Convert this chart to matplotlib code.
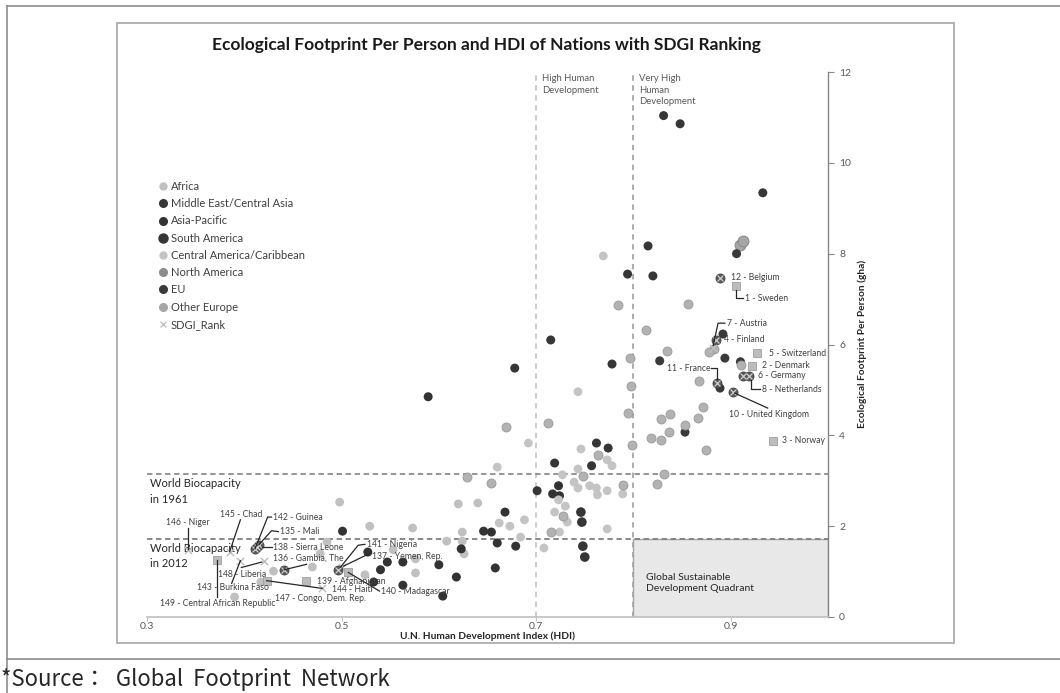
import matplotlib
matplotlib.use('Agg')
import matplotlib.pyplot as plt
from matplotlib.lines import Line2D
from matplotlib.patches import Rectangle

plt.rcParams['font.family'] = ['Lato', 'DejaVu Sans']

# ---------------- data ----------------
africa_hdi = [0.573, 0.576, 0.576, 0.498, 0.529, 0.553, 0.524, 0.485, 0.470, 0.430, 0.417, 0.390,
              0.626, 0.608, 0.624, 0.624, 0.620, 0.640, 0.478]
africa_fp = [1.96, 1.28, 0.97, 2.53, 2.00, 1.48, 0.93, 1.65, 1.10, 1.01, 0.77, 0.44,
             1.39, 1.67, 1.67, 1.87, 2.49, 2.51, 1.39]

mideast_hdi = [0.831, 0.848, 0.933, 0.815, 0.794, 0.820, 0.715, 0.678, 0.778, 0.762, 0.774, 0.719, 0.757, 0.701]
mideast_fp = [11.04, 10.86, 9.34, 8.17, 7.55, 7.51, 6.10, 5.48, 5.57, 3.83, 3.72, 3.39, 3.33, 2.78]

asiapac_hdi = [0.589, 0.723, 0.717, 0.724, 0.668, 0.646, 0.654, 0.660, 0.679, 0.623, 0.600, 0.658,
               0.563, 0.618, 0.563, 0.604, 0.501, 0.527, 0.547, 0.540, 0.533]
asiapac_fp = [4.85, 2.89, 2.71, 2.67, 2.31, 1.89, 1.87, 1.63, 1.56, 1.50, 1.15, 1.08,
              1.21, 0.88, 0.70, 0.46, 1.89, 1.43, 1.21, 1.04, 0.77]

samerica_hdi = [0.746, 0.747, 0.748, 0.750]
samerica_fp = [2.31, 2.09, 1.56, 1.32]

camerica_hdi = [0.769, 0.743, 0.692, 0.746, 0.773, 0.778, 0.743, 0.660, 0.727, 0.739, 0.755, 0.762,
                0.743, 0.773, 0.763, 0.789, 0.723, 0.730, 0.719, 0.732, 0.662, 0.673, 0.688, 0.684,
                0.724, 0.773, 0.708]
camerica_fp = [7.95, 4.96, 3.83, 3.70, 3.46, 3.33, 3.26, 3.30, 3.13, 2.97, 2.89, 2.84,
               2.84, 2.78, 2.69, 2.71, 2.58, 2.44, 2.31, 2.09, 2.07, 2.00, 2.14, 1.76,
               1.87, 1.94, 1.52]

namerica_hdi = [0.910, 0.913]
namerica_fp = [8.19, 8.28]

eu_hdi = [0.906, 0.892, 0.894, 0.827, 0.910, 0.889, 0.853]
eu_fp = [8.00, 6.23, 5.70, 5.64, 5.62, 5.04, 4.07]

oeurope_hdi = [0.856, 0.784, 0.813, 0.883, 0.878, 0.834, 0.911, 0.796, 0.797, 0.867, 0.794, 0.669,
               0.712, 0.872, 0.838, 0.828, 0.866, 0.853, 0.837, 0.818, 0.828, 0.875, 0.831, 0.799,
               0.764, 0.629, 0.748, 0.824, 0.789, 0.728, 0.654, 0.715]
oeurope_fp = [6.89, 6.87, 6.32, 5.90, 5.84, 5.86, 5.55, 5.70, 5.09, 5.20, 4.49, 4.18,
              4.27, 4.63, 4.47, 4.36, 4.38, 4.23, 4.07, 3.94, 3.90, 3.68, 3.15, 3.79,
              3.57, 3.08, 3.11, 2.93, 2.91, 2.22, 2.95, 1.87]

rank_names = ['1 - Sweden', '2 - Denmark', '3 - Norway', '4 - Finland', '5 - Switzerland',
              '6 - Germany', '7 - Austria', '8 - Netherlands', '10 - United Kingdom', '11 - France',
              '12 - Belgium', '135 - Mali', '136 - Gambia, The', '137 - Yemen, Rep.',
              '138 - Sierra Leone', '139 - Afghanistan', '140 - Madagascar', '141 - Nigeria',
              '142 - Guinea', '143 - Burkina Faso', '144 - Haiti', '145 - Chad', '146 - Niger',
              '147 - Congo, Dem. Rep.', '148 - Liberia', '149 - Central African Republic']
rank_hdi = [0.905, 0.922, 0.943, 0.885, 0.927, 0.913, 0.882, 0.919, 0.902, 0.886,
            0.889, 0.415, 0.441, 0.500, 0.413, 0.463, 0.507, 0.496,
            0.411, 0.396, 0.480, 0.385, 0.342, 0.423, 0.420, 0.372]
rank_fp = [7.28, 5.53, 3.88, 6.09, 5.81, 5.31, 5.92, 5.31, 4.96, 5.16,
           7.47, 1.59, 1.04, 1.10, 1.54, 0.80, 0.98, 1.04,
           1.50, 1.24, 0.63, 1.44, 1.48, 0.80, 1.24, 1.26]

biocap_1961 = 3.15
biocap_2012 = 1.72
hdi_high = 0.7
hdi_very_high = 0.8

x_ticks = [0.3, 0.5, 0.7, 0.9]
y_ticks = [0, 2, 4, 6, 8, 10, 12]

# ---------------- layout / style ----------------
SERIES = [
    ('Africa', africa_hdi, africa_fp, dict(color='#c0c0c0', s=40, edgecolor='none')),
    ('Middle East/Central Asia', mideast_hdi, mideast_fp, dict(color='#363636', s=42, edgecolor='none')),
    ('Asia-Pacific', asiapac_hdi, asiapac_fp, dict(color='#333333', s=42, edgecolor='none')),
    ('South America', samerica_hdi, samerica_fp, dict(color='#353535', s=48, edgecolor='none')),
    ('Central America/Caribbean', camerica_hdi, camerica_fp, dict(color='#c4c4c4', s=40, edgecolor='none')),
    ('North America', namerica_hdi, namerica_fp, dict(color='#a6a6a6', s=60, edgecolor='#8c8c8c', linewidths=0.8)),
    ('EU', eu_hdi, eu_fp, dict(color='#3a3a3a', s=42, edgecolor='none')),
    ('Other Europe', oeurope_hdi, oeurope_fp, dict(color='#b2b2b2', s=42, edgecolor='#999999', linewidths=0.6)),
]
LEGEND_STYLE = {
    'Africa': dict(marker='o', color='#c0c0c0', ms=5),
    'Middle East/Central Asia': dict(marker='o', color='#363636', ms=5.5),
    'Asia-Pacific': dict(marker='o', color='#333333', ms=5.5),
    'South America': dict(marker='o', color='#353535', ms=6.5),
    'Central America/Caribbean': dict(marker='o', color='#c4c4c4', ms=5),
    'North America': dict(marker='o', color='#8c8c8c', ms=5.5),
    'EU': dict(marker='o', color='#3a3a3a', ms=5.5),
    'Other Europe': dict(marker='o', color='#a6a6a6', ms=5.5),
    'SDGI_Rank': dict(marker='x', color='#bdbdbd', ms=5, mew=0.9),
}
RANK_SQUARE = {'1 - Sweden', '2 - Denmark', '3 - Norway', '5 - Switzerland', '139 - Afghanistan',
               '140 - Madagascar', '147 - Congo, Dem. Rep.', '149 - Central African Republic'}
RANK_CIRCLE = {'12 - Belgium', '4 - Finland', '6 - Germany', '8 - Netherlands', '10 - United Kingdom',
               '11 - France', '138 - Sierra Leone', '136 - Gambia, The', '141 - Nigeria',
               '142 - Guinea', '135 - Mali'}
LABEL_POS = {
    '12 - Belgium': (0.900, 7.47, 'left'),
    '1 - Sweden': (0.915, 7.02, 'left'),
    '7 - Austria': (0.896, 6.47, 'left'),
    '4 - Finland': (0.893, 6.10, 'left'),
    '5 - Switzerland': (0.939, 5.81, 'left'),
    '2 - Denmark': (0.932, 5.53, 'left'),
    '6 - Germany': (0.928, 5.31, 'left'),
    '8 - Netherlands': (0.932, 5.01, 'left'),
    '11 - France': (0.879, 5.48, 'right'),
    '10 - United Kingdom': (0.898, 4.45, 'left'),
    '3 - Norway': (0.953, 3.88, 'left'),
    '146 - Niger': (0.3195, 2.08, 'left'),
    '145 - Chad': (0.375, 2.25, 'left'),
    '142 - Guinea': (0.430, 2.20, 'left'),
    '135 - Mali': (0.437, 1.88, 'left'),
    '138 - Sierra Leone': (0.430, 1.54, 'left'),
    '136 - Gambia, The': (0.430, 1.29, 'left'),
    '141 - Nigeria': (0.526, 1.60, 'left'),
    '137 - Yemen, Rep.': (0.531, 1.33, 'left'),
    '139 - Afghanistan': (0.475, 0.79, 'left'),
    '144 - Haiti': (0.490, 0.615, 'left'),
    '140 - Madagascar': (0.541, 0.56, 'left'),
    '147 - Congo, Dem. Rep.': (0.432, 0.41, 'left'),
    '148 - Liberia': (0.373, 0.93, 'left'),
    '143 - Burkina Faso': (0.351, 0.64, 'left'),
    '149 - Central African Republic': (0.313, 0.30, 'left'),
}
LEADERS = {
    '1 - Sweden': [(0.913, 7.02), (0.905, 7.02), (0.905, 7.2)],
    '7 - Austria': [(0.894, 6.47), (0.887, 6.47), (0.882, 5.98)],
    '8 - Netherlands': [(0.930, 5.01), (0.921, 5.01), (0.921, 5.22)],
    '11 - France': [(0.880, 5.48), (0.886, 5.48), (0.886, 5.25)],
    '10 - United Kingdom': [(0.938, 4.60), (0.904, 4.93)],
    '146 - Niger': [(0.3418, 1.96), (0.3418, 1.50)],
    '145 - Chad': [(0.396, 2.14), (0.385, 1.44)],
    '142 - Guinea': [(0.428, 2.20), (0.424, 2.20), (0.411, 1.50)],
    '135 - Mali': [(0.435, 1.88), (0.428, 1.90), (0.415, 1.59)],
    '138 - Sierra Leone': [(0.428, 1.54), (0.418, 1.54)],
    '136 - Gambia, The': [(0.464, 1.16), (0.441, 1.04)],
    '141 - Nigeria': [(0.524, 1.60), (0.517, 1.58), (0.499, 1.10)],
    '137 - Yemen, Rep.': [(0.529, 1.40), (0.502, 1.12)],
    '140 - Madagascar': [(0.539, 0.57), (0.507, 0.98)],
    '147 - Congo, Dem. Rep.': [(0.480, 0.63), (0.423, 0.80)],
    '148 - Liberia': [(0.397, 1.09), (0.418, 1.21)],
    '143 - Burkina Faso': [(0.387, 0.74), (0.396, 1.24)],
    '149 - Central African Republic': [(0.372, 0.43), (0.372, 1.26)],
}

W, H = 1060, 693
def fx(px):
    return px / W
def fy(py):
    return 1 - py / H

fig = plt.figure(figsize=(10.6, 6.93), dpi=100)
fig.patch.set_facecolor('white')

# frames
fig.add_artist(Line2D([fx(7), fx(7)], [fy(6), 0], color='#8c8c8c', lw=1.2))
fig.add_artist(Line2D([fx(7), 1], [fy(6), fy(6)], color='#8c8c8c', lw=1.2))
fig.add_artist(Line2D([fx(7), 1], [fy(659), fy(659)], color='#8c8c8c', lw=1.2))
fig.add_artist(Rectangle((fx(117), fy(643)), fx(954) - fx(117), fy(23) - fy(643),
                         fill=False, edgecolor='#a6a6a6', lw=1.2))

ax = fig.add_axes([fx(147), fy(617), fx(828) - fx(147), fy(72) - fy(617)])
ax.set_xlim(0.3, 1.0)
ax.set_ylim(0, 12)
ax.patch.set_alpha(0)

# quadrant
ax.add_patch(Rectangle((hdi_very_high, 0), 1.0 - hdi_very_high, biocap_2012,
                       facecolor='#e8e8e8', edgecolor='#a6a6a6', lw=1.0, zorder=0))
ax.text(0.8134, 0.75, 'Global Sustainable\nDevelopment Quadrant', fontsize=7.5,
        color='#262626', ha='left', va='center', linespacing=1.35, zorder=1)

# reference lines
ax.axvline(hdi_high, color='#c8c8c8', lw=1.3, ls=(0, (3, 2.5)), zorder=1)
ax.axvline(hdi_very_high, color='#a6a6a6', lw=1.3, ls=(0, (3, 2.5)), zorder=1)
ax.axhline(biocap_1961, color='#8c8c8c', lw=1.3, ls=(0, (3, 2)), zorder=1)
ax.axhline(biocap_2012, color='#7f7f7f', lw=1.3, ls=(0, (3, 2)), zorder=1)

ax.text(0.7065, 11.95, 'High Human\nDevelopment', fontsize=6.8, color='#595959',
        ha='left', va='top', linespacing=1.35)
ax.text(0.806, 11.95, 'Very High\nHuman\nDevelopment', fontsize=6.8, color='#595959',
        ha='left', va='top', linespacing=1.35)
ax.text(0.3035, 3.05, 'World Biocapacity\nin 1961', fontsize=8, color='#262626',
        ha='left', va='top', linespacing=1.45)
ax.text(0.3035, 1.62, 'World Biocapacity\nin 2012', fontsize=8, color='#262626',
        ha='left', va='top', linespacing=1.45)

# series
for name, xs, ys, st in SERIES:
    ax.scatter(xs, ys, zorder=3, **st)

# ranked countries
for name, x, y in zip(rank_names, rank_hdi, rank_fp):
    if name in RANK_SQUARE:
        ax.scatter([x], [y], marker='s', s=34, color='#bcbcbc', edgecolor='#a0a0a0',
                   linewidths=0.6, zorder=5)
    elif name in RANK_CIRCLE:
        ax.scatter([x], [y], marker='o', s=42, color='#5a5a5a', edgecolor='#404040',
                   linewidths=0.6, zorder=5)
        ax.scatter([x], [y], marker='x', s=18, color='#cfcfcf', linewidths=0.9, zorder=6)
    else:
        ax.scatter([x], [y], marker='x', s=28, color='#bdbdbd', linewidths=1.0, zorder=5)

for name in rank_names:
    if name in LEADERS:
        pts = LEADERS[name]
        ax.plot([p[0] for p in pts], [p[1] for p in pts], color='#262626', lw=0.9, zorder=7)
    lx, ly, ha = LABEL_POS[name]
    ax.text(lx, ly, name, fontsize=6.2, color='#404040', ha=ha, va='center', zorder=8)

# axes styling
for sp in ['left', 'top']:
    ax.spines[sp].set_visible(False)
ax.spines['bottom'].set_color('#bfbfbf')
ax.spines['bottom'].set_linewidth(1.2)
ax.spines['right'].set_color('#868686')
ax.spines['right'].set_linewidth(1.0)
ax.yaxis.tick_right()
ax.set_yticks(y_ticks)
ax.set_yticklabels([str(v) for v in y_ticks])
ax.set_xticks(x_ticks)
ax.set_xticklabels([f'{v:.1f}' for v in x_ticks])
ax.tick_params(axis='y', direction='out', length=4, width=0.8, color='#868686',
               labelsize=7.5, labelcolor='#595959', pad=4)
ax.tick_params(axis='x', direction='out', length=3, width=0.8, color='#bfbfbf',
               labelsize=7.5, labelcolor='#595959', pad=0.5)

# texts
fig.text(fx(486), fy(45), 'Ecological Footprint Per Person and HDI of Nations with SDGI Ranking',
         fontsize=12.5, fontweight='bold', color='#1a1a1a', ha='center', va='center')
fig.text(fx(862), fy(344), 'Ecological Footprint Per Person (gha)', rotation=90,
         fontsize=7.3, fontweight='bold', color='#262626', ha='center', va='center')
fig.text(fx(488), fy(636), 'U.N. Human Development Index (HDI)', fontsize=7.3,
         fontweight='bold', color='#262626', ha='center', va='center')
fig.text(fx(1), fy(686), '*Source：  Global  Footprint  Network', fontsize=16,
         color='#262626', ha='left', va='baseline', family=['Noto Sans CJK KR', 'DejaVu Sans'])

# legend
handles = []
labels = []
for name in ['Africa', 'Middle East/Central Asia', 'Asia-Pacific', 'South America',
             'Central America/Caribbean', 'North America', 'EU', 'Other Europe', 'SDGI_Rank']:
    handles.append(Line2D([], [], ls='none', **LEGEND_STYLE[name]))
    labels.append(name)
fig.legend(handles, labels, loc='upper left', bbox_to_anchor=(fx(159), fy(181)),
           frameon=False, fontsize=8, labelcolor='#404040', handlelength=0.8,
           handletextpad=0.25, labelspacing=0.56, borderpad=0, borderaxespad=0)

fig.savefig('out.png', dpi=100)
